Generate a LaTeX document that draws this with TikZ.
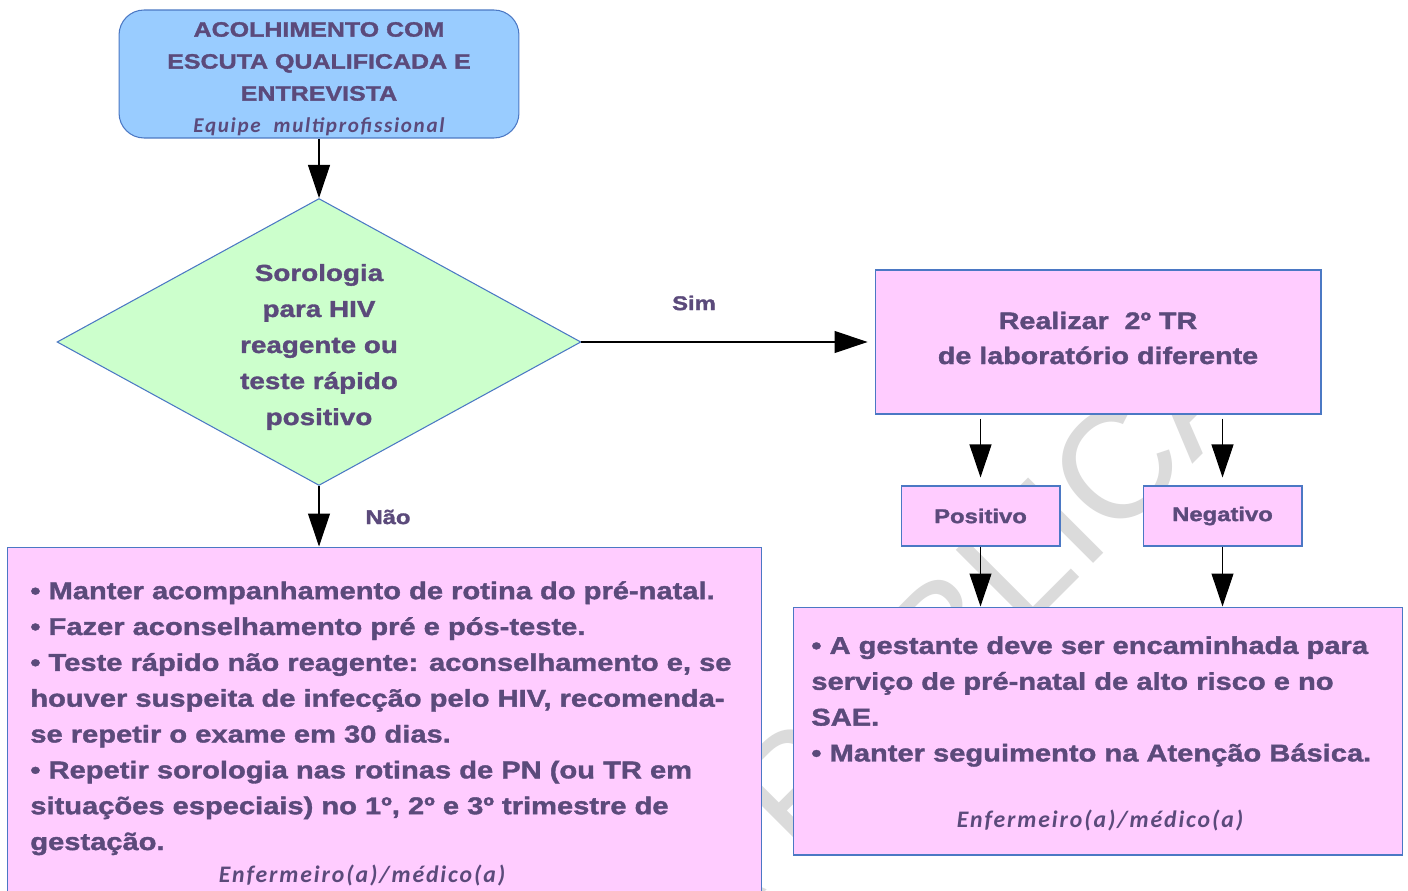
\documentclass[tikz,border=0pt]{standalone}
\usepackage{fontspec}
\setmainfont{Liberation Sans}[FakeStretch=1.2, BoldFeatures={FakeBold=1.5}]
\newfontfamily\notefont{Carlito}[LetterSpace=8]
\newfontfamily\markfont{Liberation Sans}
\usetikzlibrary{shapes.geometric,arrows.meta}

\definecolor{txtroxo}{RGB}{91,74,123}
\definecolor{azulcaixa}{RGB}{153,204,255}
\definecolor{verdecaixa}{RGB}{204,255,204}
\definecolor{rosacaixa}{RGB}{255,204,255}
\definecolor{bordaazul}{RGB}{75,120,196}

\tikzset{
  caixa/.style={draw=bordaazul, line width=0.6pt, fill=rosacaixa, text=txtroxo,
    inner sep=0pt, align=center, font=\bfseries\fontsize{13.6}{19.9}\selectfont},
  topobox/.style={caixa, fill=azulcaixa, rounded corners=0.5cm,
    minimum width=8cm, minimum height=2.56cm, font=\bfseries\fontsize{11.85}{18.2}\selectfont},
  decisao/.style={caixa, diamond, fill=verdecaixa, shape aspect=1.826,
    minimum width=10.48cm, minimum height=5.74cm},
  texto/.style={text=txtroxo, inner sep=0pt, align=center},
  rotulobox/.style={caixa, minimum width=3.18cm, minimum height=1.2cm,
    font=\bfseries\fontsize{11.3}{13}\selectfont},
  lista/.style={text=txtroxo, inner sep=0pt, align=left, anchor=north west,
    font=\bfseries\fontsize{13.8}{20.4}\selectfont},
  nota/.style={text=txtroxo, inner sep=0pt, font=\notefont\bfseries\itshape\fontsize{13.5}{16}\selectfont},
  rotulo/.style={text=txtroxo, inner sep=0pt, font=\bfseries\fontsize{11.3}{13}\selectfont},
  marca/.style={text=black!14, inner sep=0pt, anchor=base east, rotate=45,
    font=\markfont\fontsize{88}{100}\selectfont},
  seta/.style={-{Triangle[length=0.66cm,width=0.44cm]}, line width=0.6pt, black}
}

\begin{document}
\begin{tikzpicture}[x=0.02cm,y=-0.02cm]
\clip (0,0) rectangle (1408,891);
\fill[white] (0,0) rectangle (1408,891);
% marca d'agua ao fundo
\node[marca] (marca) at (1266,391) {CONSULTA PÚBLICA};

% caixas
\node[topobox] (acolhe) at (319,74) {};
\node[texto, font=\bfseries\fontsize{11.85}{18.2}\selectfont] (textoacolhe) at (319,79)
  {ACOLHIMENTO COM\\ESCUTA QUALIFICADA E\\ENTREVISTA\\
  {\notefont\bfseries\itshape\fontsize{12}{14}\selectfont Equipe\ \ multiprofissional}};
\node[decisao] (sorologia) at (319,342) {};
\node[texto, font=\bfseries\fontsize{13.2}{20.5}\selectfont] (textosorologia) at (319,347)
  {Sorologia\\para HIV\\reagente ou\\teste rápido\\positivo};
\node[caixa, minimum width=8.92cm, minimum height=2.88cm] (realizar) at (1098,342) {};
\node[texto, font=\bfseries\fontsize{13.6}{19.9}\selectfont] (textorealizar) at (1098,338)
  {Realizar\ \ 2º TR\\de laboratório diferente};
\node[rotulobox] (positivo) at (980.5,516) {Positivo};
\node[rotulobox] (negativo) at (1222.5,516) {Negativo};
\node[caixa, minimum width=12.2cm, minimum height=4.96cm] (encaminha) at (1098,731) {};
\node[caixa, minimum width=15.1cm, minimum height=7cm] (rotina) at (384.5,722) {};

% textos das caixas de baixo
\node[lista] (listarotina) at (30,581) {\textbullet\ Manter acompanhamento de rotina do pré-natal.\\
  \textbullet\ Fazer aconselhamento pré e pós-teste.\\
  \textbullet\ Teste rápido não reagente: aconselhamento e, se\\
  houver suspeita de infecção pelo HIV, recomenda-\\
  se repetir o exame em 30 dias.\\
  \textbullet\ Repetir sorologia nas rotinas de PN (ou TR em\\
  situações especiais) no 1º, 2º e 3º trimestre de\\
  gestação.};
\node[lista] (listaencaminha) at (811,636) {\textbullet\ A gestante deve ser encaminhada para\\
  serviço de pré-natal de alto risco e no\\
  SAE.\\
  \textbullet\ Manter seguimento na Atenção Básica.};
\node[nota] (notarotina) at (362,875) {Enfermeiro(a)/médico(a)};
\node[nota] (notaencaminha) at (1100,820) {Enfermeiro(a)/médico(a)};

% setas
\draw[seta] (acolhe) -- (sorologia);
\draw[seta, shorten >=0.14cm] (sorologia.east) -- (realizar.west);
\draw[seta] (sorologia.south) -- (sorologia.south |- rotina.north);
\draw[seta, shorten <=0.08cm, shorten >=0.16cm] (realizar.south -| positivo.north) -- (positivo.north);
\draw[seta, shorten <=0.08cm, shorten >=0.16cm] (realizar.south -| negativo.north) -- (negativo.north);
\draw[seta] (positivo.south) -- (positivo.south |- encaminha.north);
\draw[seta] (negativo.south) -- (negativo.south |- encaminha.north);

\node[rotulo] (sim) at (694,303) {Sim};
\node[rotulo] (nao) at (388,517) {Não};
\end{tikzpicture}
\end{document}
